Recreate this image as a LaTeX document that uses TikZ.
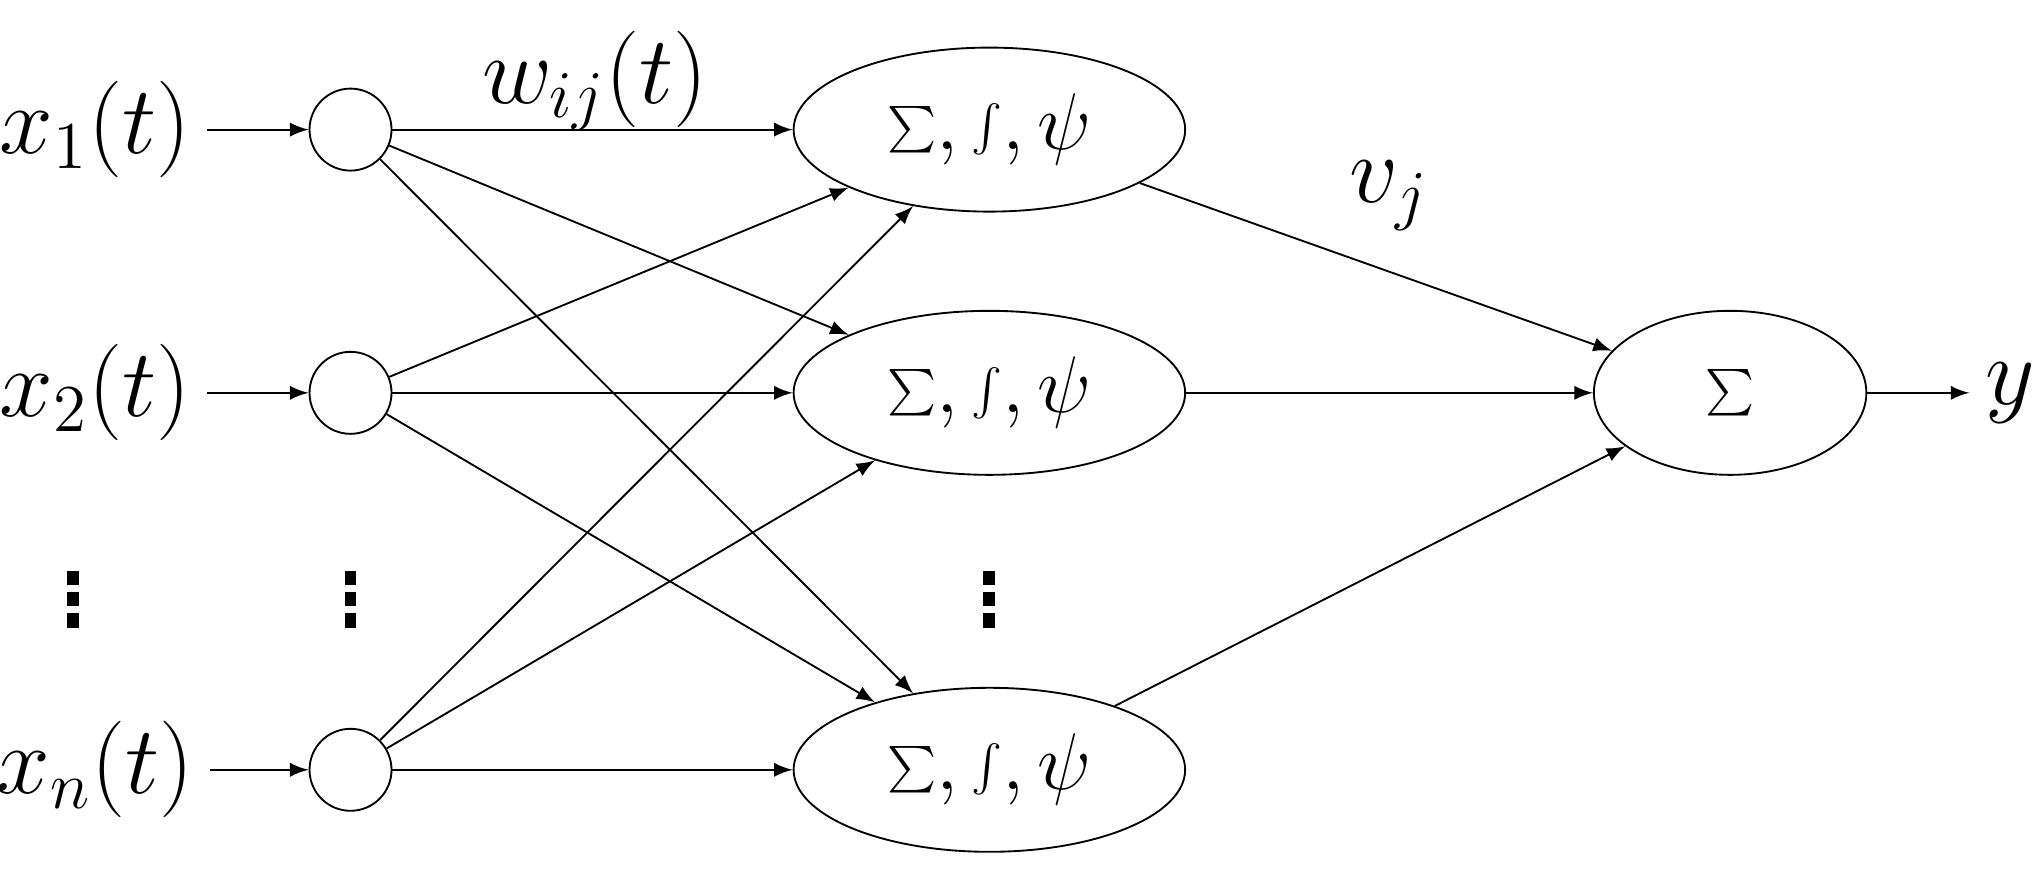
\documentclass[tikz,border=0pt]{standalone}
\usepackage{tikz}
\usetikzlibrary{arrows,shapes}
\begin{document}
\begin{tikzpicture}[
	neuron/.style={
		draw, circle, minimum size=0.62cm, inner sep=0pt
	},
	hidden/.style={
		draw, ellipse, minimum width=2.96cm, minimum height=1.24cm,
		inner sep=0pt, font=\fontsize{16}{18}\selectfont
	},
	lbl/.style={font=\fontsize{21}{23}\selectfont},
	vdot/.style={fill, minimum width=0.9mm, minimum height=1.1mm, inner sep=0pt},
	>=latex
]
\useasboundingbox (0,2.16) rectangle (15.4,8.83);
% inputs
\node[lbl] (x1) at (0.72,7.85) {$x_1(t)$};
\node[lbl] (x2) at (0.72,5.86) {$x_2(t)$};
\node[lbl] (xn) at (0.72,3.01) {$x_n(t)$};
\node[neuron] (c1) at (2.65,7.85) {};
\node[neuron] (c2) at (2.65,5.86) {};
\node[neuron] (cn) at (2.65,3.01) {};
% hidden layer
\node[hidden] (h1) at (7.48,7.85) {$\sum,\int,\psi$};
\node[hidden] (h2) at (7.48,5.86) {$\sum,\int,\psi$};
\node[hidden] (hn) at (7.48,3.01) {$\sum,\int,\psi$};
\node[hidden, minimum width=2.06cm] (s) at (13.08,5.86) {$\sum$};
\node[lbl] (y) at (15.2,5.86) {$y$};
% dots
\foreach \x/\n in {0.55/a,2.65/b,7.48/c}
	\foreach \k in {1,2,3}
		\node[vdot] (d\n\k) at (\x,4.62-0.16*\k) {};
\foreach \i in {1,2,n} {
	\draw[->] (x\i)--(c\i);
	\foreach \j in {1,2,n}
		\draw[->] (c\i)--(h\j);
	\draw[->] (h\i)--(s);
}
\draw[->] (s)--(y);
\node[lbl] (w) at (4.5,8.22) {$w_{ij}(t)$};
\node[lbl] (v) at (10.5,7.35) {$v_j$};
\end{tikzpicture}
\end{document}
